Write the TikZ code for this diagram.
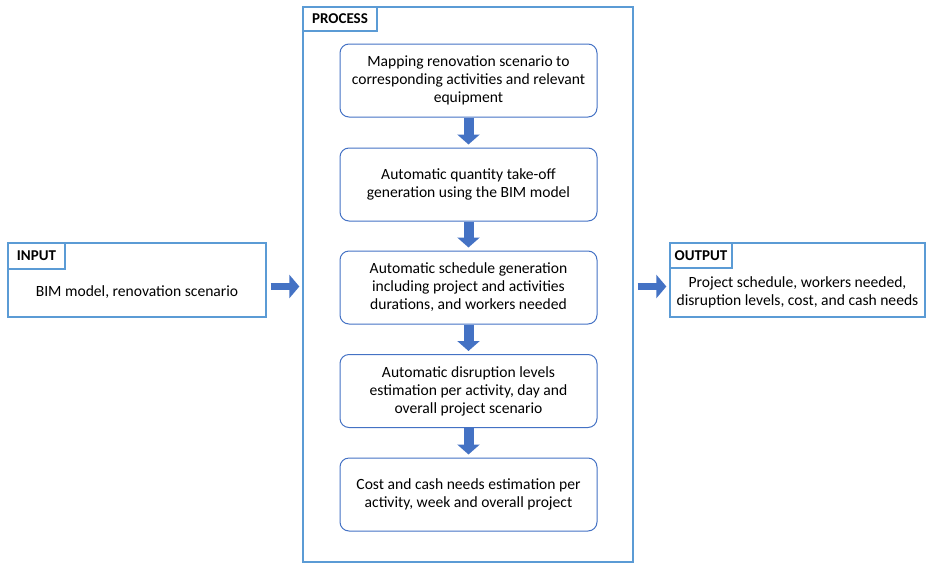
\documentclass[tikz,border=0pt]{standalone}
\usepackage{fontspec}
\setmainfont{Carlito}
\usetikzlibrary{arrows.meta}

\definecolor{frameblue}{HTML}{5B9BD5}
\definecolor{arrowblue}{HTML}{4472C4}

\tikzset{
	frame/.style={draw=frameblue, line width=1.3pt, inner sep=0pt},
	tab/.style={draw=frameblue, line width=1.3pt, anchor=north west, inner sep=0pt,
		font=\fontsize{15}{18}\selectfont\bfseries},
	stepbox/.style={draw=arrowblue, line width=1pt, rounded corners=9pt,
		minimum width=257pt, minimum height=73pt, align=center,
		font=\fontsize{15.6}{18}\selectfont},
	flow/.style={draw=arrowblue, line width=10pt, shorten >=3pt,
		-{Triangle[length=10pt,width=22pt]}},
	sideflow/.style={draw=arrowblue, line width=7pt, shorten <=4pt, shorten >=3pt,
		-{Triangle[length=10pt,width=23pt]}}
}

\begin{document}
\begin{tikzpicture}[x=1pt,y=-1pt]%[show background grid]

	\useasboundingbox (0,0) rectangle (927,563);

	% input
	\node[frame, minimum width=258pt, minimum height=74pt] (input) at (137,280) {};
	\node[tab, minimum width=57pt, minimum height=26pt] (inputTab) at (input.north west) {INPUT};
	\node[font=\fontsize{15.6}{18}\selectfont] (inputText) at (137,292) {BIM model, renovation scenario};

	% process
	\node[frame, minimum width=330pt, minimum height=555pt] (process) at (468,284.5) {};
	\node[tab, minimum width=74pt, minimum height=24pt] (processTab) at (process.north west) {PROCESS};

	\node[stepbox] (mapping) at (468.5,80.5)
		{Mapping renovation scenario to\\corresponding activities and relevant\\equipment};
	\node[stepbox] (takeoff) at (468.5,184.5)
		{Automatic quantity take-off\\generation using the BIM model};
	\node[stepbox] (schedule) at (468.5,287.5)
		{Automatic schedule generation\\including project and activities\\durations, and workers needed};
	\node[stepbox] (disruption) at (468.5,391)
		{Automatic disruption levels\\estimation per activity, day and\\overall project scenario};
	\node[stepbox] (cost) at (468.5,494.5)
		{Cost and cash needs estimation per\\activity, week and overall project};

	% output
	\node[frame, minimum width=255pt, minimum height=74pt] (output) at (797.5,280) {};
	\node[tab, minimum width=62pt, minimum height=25pt] (outputTab) at (output.north west) {OUTPUT};
	\node[font=\fontsize{15.6}{18}\selectfont, align=center] (outputText) at (797.5,292)
		{Project schedule, workers needed,\\disruption levels, cost, and cash needs};

	% arrows
	\draw[flow] (mapping) -- (takeoff);
	\draw[flow] (takeoff) -- (schedule);
	\draw[flow] (schedule) -- (disruption);
	\draw[flow] (disruption) -- (cost);
	\draw[sideflow] ([yshift=-6.5pt]input.east) -- ([yshift=-6.5pt]input.east -| process.west);
	\draw[sideflow] ([yshift=-6.5pt]output.west -| process.east) -- ([yshift=-6.5pt]output.west);

\end{tikzpicture}
\end{document}
